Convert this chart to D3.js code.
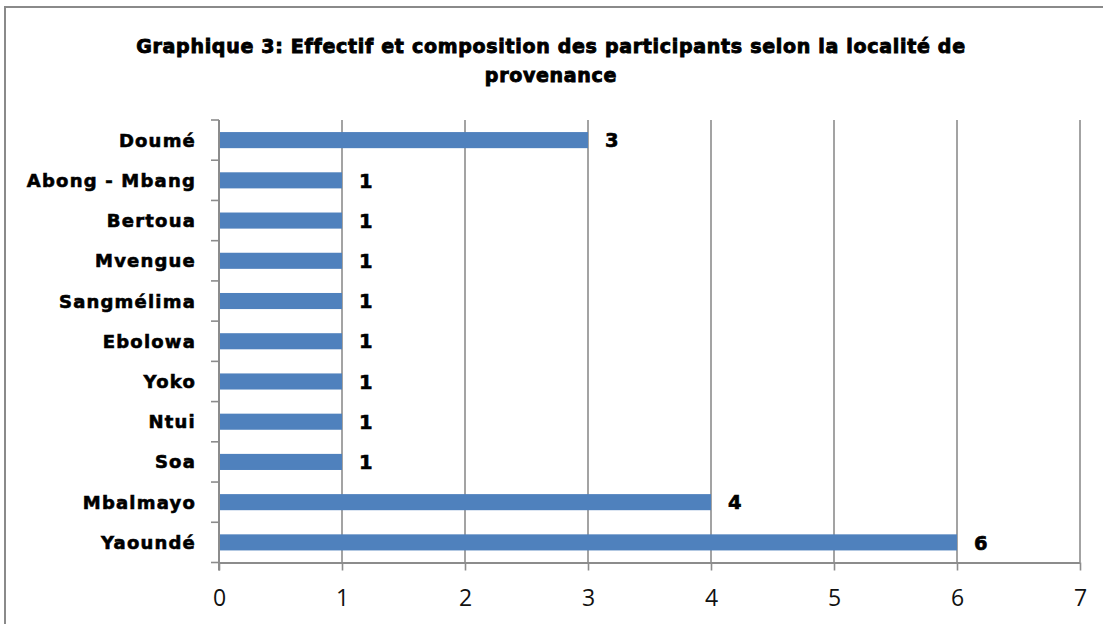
<!DOCTYPE html>
<html>
<head>
<meta charset="utf-8">
<script src="https://cdn.jsdelivr.net/npm/d3@7"></script>
<style>
  body { margin: 0; background: #fff; }
  svg { display: block; }
</style>
</head>
<body>
<script>
// data (top to bottom)
var localites = ["Doumé", "Abong - Mbang", "Bertoua", "Mvengue", "Sangmélima",
  "Ebolowa", "Yoko", "Ntui", "Soa", "Mbalmayo", "Yaoundé"];
var effectifs = [3, 1, 1, 1, 1, 1, 1, 1, 1, 4, 6];
var xTicks = [0, 1, 2, 3, 4, 5, 6, 7];
var titleLines = ["Graphique 3: Effectif et composition des participants selon la localité de", "provenance"];

var width = 1103, height = 624;
var plot = { left: 219, right: 1080, top: 120, bottom: 562.5 };
var gridColor = "#8c8c8c";
var heavyFont = "DejaVu Sans, Liberation Sans, Arial, sans-serif";

var svg = d3.select("body").append("svg")
  .attr("width", width).attr("height", height);

// outer chart frame (only top and left are in the picture)
svg.append("path")
  .attr("d", "M5," + height + " V7 H" + width)
  .attr("fill", "none").attr("stroke", "#8a8a8a").attr("stroke-width", 2);

// title
svg.append("g").selectAll("text")
  .data(titleLines).enter().append("text")
  .attr("x", 551).attr("y", function (d, i) { return 53 + i * 29; })
  .attr("text-anchor", "middle")
  .attr("font-family", heavyFont)
  .attr("font-weight", "bold").attr("font-size", 19)
  .attr("letter-spacing", 0.7)
  .attr("stroke", "#000").attr("stroke-width", 0.9)
  .attr("fill", "#000")
  .text(function (d) { return d; });

var x = d3.scaleLinear().domain([0, 7]).range([plot.left, plot.right]);
var y = d3.scaleBand().domain(localites).range([plot.top, plot.bottom]).paddingInner(0.6).paddingOuter(0.3);

// vertical gridlines
svg.append("g").selectAll("line")
  .data(xTicks.slice(1)).enter().append("line")
  .attr("x1", function (d) { return x(d); }).attr("x2", function (d) { return x(d); })
  .attr("y1", plot.top).attr("y2", plot.bottom)
  .attr("stroke", gridColor).attr("stroke-width", 1.6);

// bars
svg.append("g").selectAll("rect")
  .data(localites).enter().append("rect")
  .attr("x", x(0))
  .attr("y", function (d) { return y(d); })
  .attr("width", function (d, i) { return x(effectifs[i]) - x(0); })
  .attr("height", y.bandwidth())
  .attr("fill", "#4f81bd");

// value labels
svg.append("g").selectAll("text")
  .data(localites).enter().append("text")
  .attr("x", function (d, i) { return x(effectifs[i]) + 17; })
  .attr("y", function (d) { return y(d) + y.bandwidth() / 2; })
  .attr("dy", "0.37em")
  .attr("font-family", heavyFont)
  .attr("font-weight", "bold").attr("font-size", 19.5)
  .attr("stroke", "#000").attr("stroke-width", 0.6)
  .attr("fill", "#000")
  .text(function (d, i) { return effectifs[i]; });

// x axis
var xAxis = svg.append("g")
  .attr("transform", "translate(0," + plot.bottom + ")")
  .call(d3.axisBottom(x).tickValues(xTicks).tickFormat(d3.format("d"))
    .tickSize(8).tickPadding(19).tickSizeOuter(0));
xAxis.select(".domain").attr("stroke", gridColor).attr("stroke-width", 2);
xAxis.selectAll(".tick line").attr("stroke", gridColor).attr("stroke-width", 1.6);
xAxis.selectAll(".tick text")
  .attr("font-family", "Open Sans, Liberation Sans, sans-serif")
  .attr("font-size", 23).attr("fill", "#111");

// y axis: ticks between categories
var yEdges = d3.range(localites.length + 1).map(function (i) { return plot.top + i * (plot.bottom - plot.top) / localites.length; });
var yAxis = svg.append("g");
yAxis.append("line")
  .attr("x1", plot.left).attr("x2", plot.left)
  .attr("y1", plot.top).attr("y2", plot.bottom + 8)
  .attr("stroke", gridColor).attr("stroke-width", 2);
yAxis.selectAll(".edge")
  .data(yEdges).enter().append("line")
  .attr("class", "edge")
  .attr("x1", plot.left - 8).attr("x2", plot.left)
  .attr("y1", function (d) { return d; }).attr("y2", function (d) { return d; })
  .attr("stroke", gridColor).attr("stroke-width", 1.6);

// category labels
svg.append("g").selectAll("text")
  .data(localites).enter().append("text")
  .attr("x", 196)
  .attr("y", function (d) { return y(d) + y.bandwidth() / 2; })
  .attr("dy", "0.36em")
  .attr("text-anchor", "end")
  .attr("font-family", heavyFont)
  .attr("font-weight", "bold").attr("font-size", 18)
  .attr("letter-spacing", 1.2)
  .attr("stroke", "#000").attr("stroke-width", 0.6)
  .attr("fill", "#000")
  .text(function (d) { return d; });
</script>
</body>
</html>
